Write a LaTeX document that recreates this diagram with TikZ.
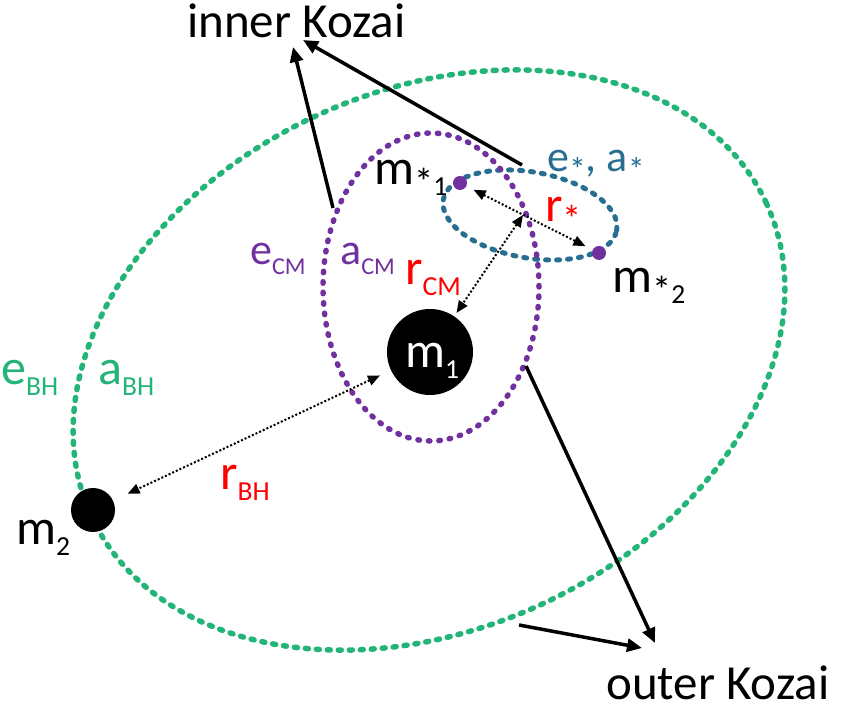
\documentclass[tikz,border=0pt]{standalone}
\usepackage{fontspec}
\setmainfont{Carlito}
\usepackage{graphicx}
\usepackage{tikz}
\usetikzlibrary{positioning,arrows.meta}
\usepackage{xcolor}
\definecolor{bhgreen}{RGB}{35,180,120}
\definecolor{cmpurple}{RGB}{112,48,160}
\definecolor{binblue}{RGB}{40,110,145}
\newcommand{\sub}[1]{\raisebox{-0.21em}{\scalebox{0.55}{#1}}}
\newcommand{\str}{\scalebox{1.4}{*}}

\begin{document}
\begin{tikzpicture}[x=1pt, y=1pt,
    orbit/.style={line width=5.5pt, dash pattern=on 3pt off 8pt, line cap=round},
    mass/.style={circle, fill=black, inner sep=0pt},
    star/.style={circle, fill=cmpurple, inner sep=0pt, minimum size=14pt},
    lbl/.style={font=\fontsize{50}{50}\selectfont, inner sep=0pt, anchor=base west},
    slbl/.style={lbl, font=\fontsize{44}{44}\selectfont},
    kozai/.style={lbl, font=\fontsize{49}{49}\selectfont},
    arr/.style={-{Triangle[length=15pt,width=13pt]}, line width=3.5pt},
    sep/.style={{Triangle[length=12pt,width=10pt]}-{Triangle[length=12pt,width=10pt]}, line width=2pt, dash pattern=on 2pt off 2pt}]
  \useasboundingbox (0,0) rectangle (844,706);
  % orbits
  \draw[orbit, bhgreen, rotate around={25:(429,346)}] (429,346) ellipse [x radius=372, y radius=269];
  \draw[orbit, binblue, line width=5pt, rotate around={-10:(530,491)}] (530,491) ellipse [x radius=88, y radius=43];
  \draw[orbit, cmpurple, dash pattern=on 1.5pt off 9pt] (431,419) ellipse [x radius=108, y radius=154];
  % masses
  \node[mass, minimum size=86pt] (m1) at (430,354) {};
  \node[mass, minimum size=44pt] (m2) at (93,196) {};
  \node[star] (ms1) at (460,523) {};
  \node[star] (ms2) at (599,453) {};
  \coordinate (cm) at (523,491);
  % separations
  \draw[sep, shorten <=8pt, shorten >=8pt] (ms1) -- (ms2);
  \draw[sep, shorten >=4pt] (cm) -- (m1);
  \draw[sep, shorten <=12pt, shorten >=16pt] (m1) -- (m2);
  % Kozai arrows
  \node[kozai] (inner) at (187,668) {inner Kozai};
  \node[kozai] (outer) at (606,6) {outer Kozai};
  \coordinate (in1) at (333,498);
  \coordinate (in2) at (522,541);
  \coordinate (out1) at (526,340);
  \coordinate (out2) at (519,81);
  \coordinate (tin1) at (293,659);
  \coordinate (tin2) at (303,666);
  \coordinate (tout1) at (655,63);
  \coordinate (tout2) at (642,58);
  \draw[arr] (in1) -- (tin1);
  \draw[arr] (in2) -- (tin2);
  \draw[arr] (out1) -- (tout1);
  \draw[arr] (out2) -- (tout2);
  % labels
  \node[lbl, text=white] (lm1) at (405,338) {m\sub{1}};
  \node[lbl] (lm2) at (16,161) {m\sub{2}};
  \node[lbl] (lms1) at (374,521) {m\sub{\str1}};
  \node[lbl] (lms2) at (612,413) {m\sub{\str2}};
  \node[slbl, text=binblue] (lbin) at (547,534) {e\sub{\str}, a\sub{\str}};
  \node[lbl, text=red] (lrs) at (545,484) {r\sub{\str}};
  \node[slbl, text=cmpurple] (lecm) at (250,441) {e\sub{CM}};
  \node[slbl, text=cmpurple] (lacm) at (340,441) {a\sub{CM}};
  \node[lbl, text=red] (lrcm) at (405,421) {r\sub{CM}};
  \node[lbl, text=bhgreen] (lebh) at (1,321) {e\sub{BH}};
  \node[lbl, text=bhgreen] (labh) at (98,321) {a\sub{BH}};
  \node[lbl, text=red] (lrbh) at (220,216) {r\sub{BH}};
\end{tikzpicture}
\end{document}
